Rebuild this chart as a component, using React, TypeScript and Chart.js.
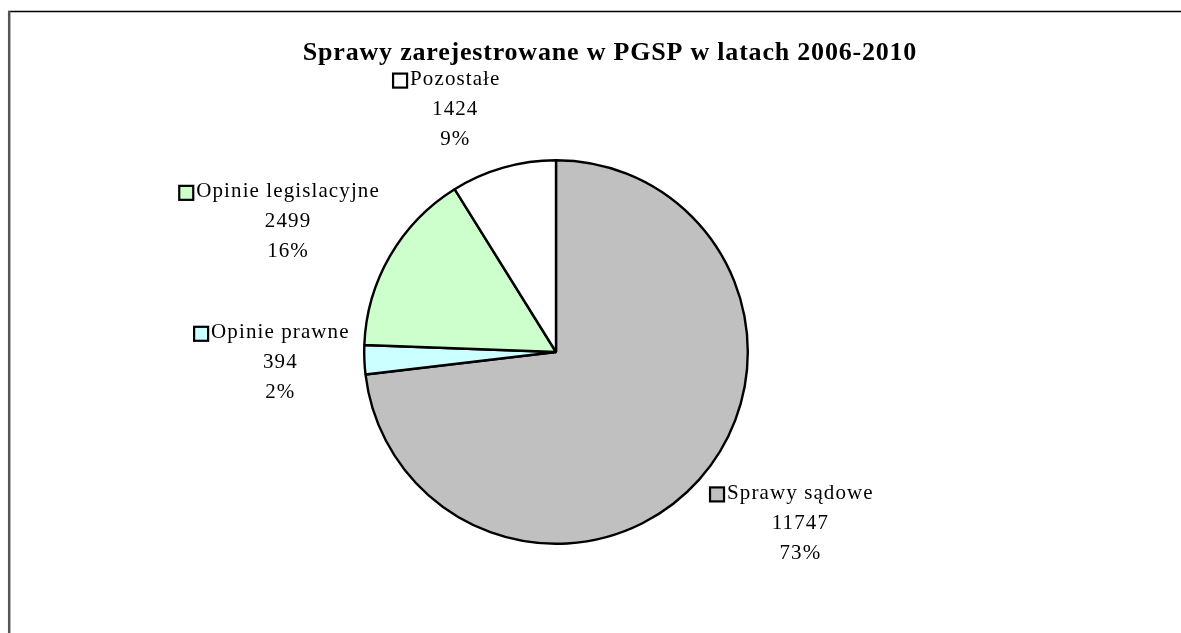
import React, { useEffect, useRef } from "react";
import { Chart, registerables } from "chart.js";

Chart.register(...registerables);

const TITLE = "Sprawy zarejestrowane w PGSP w latach 2006-2010";
const categories = ["Sprawy sądowe", "Opinie prawne", "Opinie legislacyjne", "Pozostałe"];
const values = [11747, 394, 2499, 1424];
const colors = ["#C0C0C0", "#CCFFFF", "#CCFFCC", "#FFFFFF"];
// label offsets (from the arc's outer mid-point to the centre of the value line)
const labelOffsets: [number, number][] = [
  [101, 44],
  [-84, 3],
  [-102, -34],
  [-48, -58],
];

const FONT = '"Liberation Serif", "DejaVu Serif", serif';

const decorPlugin = {
  id: "decor",
  beforeDraw(chart: any) {
    const ctx = chart.ctx;
    ctx.save();
    ctx.fillStyle = "#fff";
    ctx.fillRect(0, 0, chart.width, chart.height);
    // frame
    ctx.strokeStyle = "#000";
    ctx.lineWidth = 1.5;
    ctx.beginPath();
    ctx.moveTo(8, 11.5);
    ctx.lineTo(chart.width, 11.5);
    ctx.stroke();
    ctx.strokeStyle = "#555";
    ctx.lineWidth = 2.5;
    ctx.beginPath();
    ctx.moveTo(9.2, 11);
    ctx.lineTo(9.2, chart.height);
    ctx.stroke();
    ctx.restore();
  },
  afterDraw(chart: any) {
    const ctx = chart.ctx;
    ctx.save();
    // title
    ctx.fillStyle = "#000";
    ctx.font = `bold 26px ${FONT}`;
    (ctx as any).letterSpacing = "0.8px";
    ctx.textAlign = "center";
    ctx.textBaseline = "alphabetic";
    ctx.fillText(TITLE, 610, 60);

    const meta = chart.getDatasetMeta(0);
    const total = values.reduce((a, b) => a + b, 0);
    ctx.font = `21px ${FONT}`;
    (ctx as any).letterSpacing = "1.1px";
    ctx.textBaseline = "middle";
    meta.data.forEach((arc: any, i: number) => {
      const mid = (arc.startAngle + arc.endAngle) / 2;
      const ex = arc.x + Math.cos(mid) * arc.outerRadius;
      const ey = arc.y + Math.sin(mid) * arc.outerRadius;
      const cx = ex + labelOffsets[i][0];
      const cy = ey + labelOffsets[i][1];
      const lh = 30;
      const name = categories[i];
      const pct = Math.round((values[i] / total) * 100) + "%";
      ctx.fillStyle = "#000";
      ctx.textAlign = "center";
      ctx.fillText(name, cx, cy - lh);
      ctx.fillText(String(values[i]), cx, cy);
      ctx.fillText(pct, cx, cy + lh);
      const w = ctx.measureText(name).width;
      const kx = cx - w / 2 - 17;
      const ky = cy - lh - 6;
      ctx.fillStyle = colors[i];
      ctx.fillRect(kx, ky, 14, 14);
      ctx.strokeStyle = "#000";
      ctx.lineWidth = 2.2;
      ctx.strokeRect(kx, ky, 14, 14);
    });
    ctx.restore();
  },
};

export default function App() {
  const ref = useRef<HTMLCanvasElement | null>(null);
  useEffect(() => {
    if (!ref.current) return;
    const chart = new Chart(ref.current, {
      type: "pie",
      data: {
        labels: categories,
        datasets: [
          {
            data: values,
            backgroundColor: colors,
            borderColor: "#000",
            borderWidth: 2.4,
            hoverBorderWidth: 2.4,
          },
        ],
      },
      options: {
        responsive: false,
        animation: false,
        events: [],
        layout: { padding: { left: 363, right: 432, top: 159, bottom: 88 } },
        plugins: {
          legend: { display: false },
          title: { display: false },
          tooltip: { enabled: false },
        },
      },
      plugins: [decorPlugin],
    });
    return () => chart.destroy();
  }, []);
  return (
    <div style={{ position: "absolute", left: 0, top: 0, width: 1181, height: 633 }}>
      <canvas ref={ref} width={1181} height={633} style={{ display: "block" }} />
    </div>
  );
}
